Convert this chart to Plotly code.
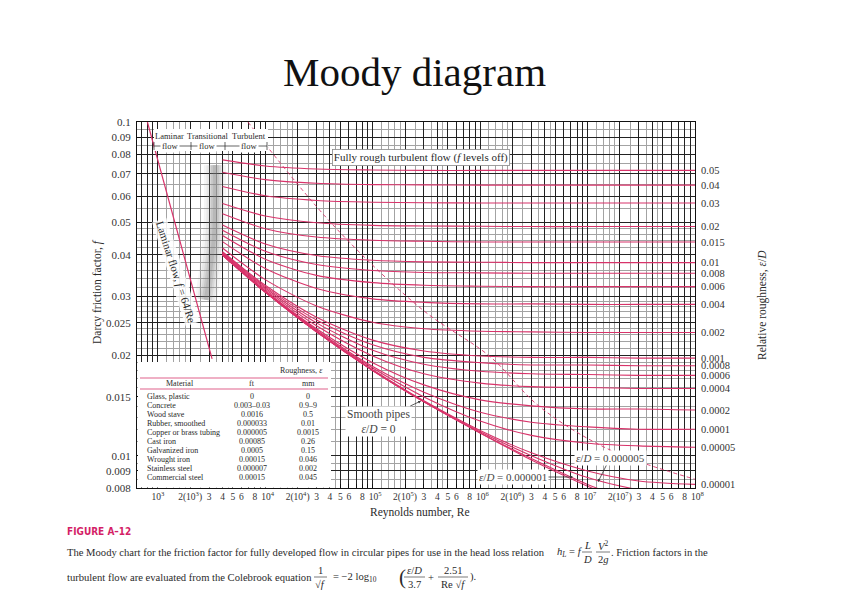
import numpy as np
import plotly.graph_objects as go

# ---------------- data ----------------
reynolds = [4e3, 1e4, 3e4, 1e5, 3e5, 1e6, 3e6, 1e7, 3e7, 1e8]

f_0p05 = [0.0770, 0.0738, 0.0723, 0.0718, 0.0716, 0.0716, 0.0716, 0.0716, 0.0716, 0.0716]
f_0p04 = [0.0707, 0.0672, 0.0655, 0.0649, 0.0648, 0.0647, 0.0647, 0.0647, 0.0647, 0.0647]
f_0p03 = [0.0641, 0.0601, 0.0582, 0.0575, 0.0573, 0.0572, 0.0572, 0.0572, 0.0572, 0.0572]
f_0p02 = [0.0570, 0.0523, 0.0499, 0.0490, 0.0488, 0.0487, 0.0486, 0.0486, 0.0486, 0.0486]
f_0p015 = [0.0531, 0.0479, 0.0452, 0.0442, 0.0439, 0.0437, 0.0437, 0.0437, 0.0437, 0.0437]
f_0p01 = [0.0491, 0.0431, 0.0398, 0.0385, 0.0381, 0.0380, 0.0379, 0.0379, 0.0379, 0.0379]
f_0p008 = [0.0474, 0.0410, 0.0374, 0.0359, 0.0354, 0.0353, 0.0352, 0.0352, 0.0352, 0.0352]
f_0p006 = [0.0457, 0.0388, 0.0347, 0.0330, 0.0324, 0.0322, 0.0321, 0.0321, 0.0321, 0.0321]
f_0p004 = [0.0438, 0.0364, 0.0317, 0.0295, 0.0288, 0.0285, 0.0285, 0.0284, 0.0284, 0.0284]
f_0p002 = [0.0419, 0.0337, 0.0281, 0.0251, 0.0240, 0.0236, 0.0235, 0.0234, 0.0234, 0.0234]
f_0p001 = [0.0409, 0.0324, 0.0260, 0.0222, 0.0206, 0.0199, 0.0197, 0.0197, 0.0196, 0.0196]
f_0p0008 = [0.0407, 0.0321, 0.0255, 0.0215, 0.0197, 0.0190, 0.0187, 0.0187, 0.0186, 0.0186]
f_0p0006 = [0.0405, 0.0318, 0.0250, 0.0207, 0.0188, 0.0179, 0.0176, 0.0175, 0.0174, 0.0174]
f_0p0004 = [0.0403, 0.0315, 0.0245, 0.0199, 0.0176, 0.0165, 0.0161, 0.0160, 0.0159, 0.0159]
f_0p0002 = [0.0401, 0.0312, 0.0240, 0.0190, 0.0163, 0.0147, 0.0141, 0.0138, 0.0138, 0.0137]
f_0p0001 = [0.0400, 0.0310, 0.0238, 0.0185, 0.0155, 0.0135, 0.0126, 0.0122, 0.0120, 0.0120]
f_0p00005 = [0.0400, 0.0310, 0.0236, 0.0183, 0.0150, 0.0127, 0.0115, 0.0109, 0.0107, 0.0106]
f_0p00001 = [0.0399, 0.0309, 0.0235, 0.0181, 0.0146, 0.0119, 0.0102, 0.0090, 0.0084, 0.0082]
f_0p000005 = [0.0399, 0.0309, 0.0235, 0.0180, 0.0145, 0.0118, 0.0100, 0.0086, 0.0079, 0.0075]
f_0p000001 = [0.0399, 0.0309, 0.0235, 0.0180, 0.0145, 0.0117, 0.0098, 0.0082, 0.0072, 0.0064]
f_smooth = [0.0399, 0.0309, 0.0235, 0.0180, 0.0145, 0.0117, 0.0097, 0.0081, 0.0070, 0.0059]

labelled_roughness = ["0.05", "0.04", "0.03", "0.02", "0.015", "0.01", "0.008", "0.006",
                      "0.004", "0.002", "0.001", "0.0008", "0.0006", "0.0004", "0.0002",
                      "0.0001", "0.00005", "0.00001"]

laminar_re = [800, 3200]
laminar_f = [0.1, 0.0195]

rough_limit_re = [6900, 4.28e4, 2.94e5, 1.24e6, 3.6e6, 1.62e7, 1e8]
rough_limit_f = [0.1, 0.0491, 0.0273, 0.0198, 0.0140, 0.0104, 0.0085]

transition_re = [3400, 3340, 2800]
transition_f = [0.0743, 0.0459, 0.0293]

f_ticks = [0.008, 0.009, 0.01, 0.015, 0.02, 0.025, 0.03, 0.04, 0.05, 0.06, 0.07, 0.08, 0.09, 0.1]
f_tick_text = ["0.008", "0.009", "0.01", "0.015", "0.02", "0.025", "0.03", "0.04", "0.05",
               "0.06", "0.07", "0.08", "0.09", "0.1"]
f_minor = [0.0085, 0.0095, 0.011, 0.012, 0.013, 0.014, 0.016, 0.017, 0.018, 0.019, 0.021,
           0.022, 0.023, 0.024, 0.026, 0.027, 0.028, 0.029, 0.032, 0.034, 0.036, 0.038,
           0.042, 0.044, 0.046, 0.048, 0.055, 0.065, 0.075, 0.085, 0.095]

materials = ["Glass, plastic", "Concrete", "Wood stave", "Rubber, smoothed",
             "Copper or brass tubing", "Cast iron", "Galvanized iron", "Wrought iron",
             "Stainless steel", "Commercial steel"]
rough_ft = ["0", "0.003–0.03", "0.0016", "0.000033", "0.000005", "0.00085", "0.0005",
            "0.00015", "0.000007", "0.00015"]
rough_mm = ["0", "0.9–9", "0.5", "0.01", "0.0015", "0.26", "0.15", "0.046", "0.002", "0.045"]

# ---------------- styling ----------------
PINK = "#d8336a"
SERIF = "Liberation Serif, Times New Roman, serif"
TXT = "#2a2a2a"
L, R, T, B = 137, 147, 122, 124
W, H = 842, 612
PW, PH = W - L - R, H - T - B
CAP = 10.6


def px(x):
    return (x - L) / PW


def py(y):
    return (H - B - y) / PH


curves = [f_0p05, f_0p04, f_0p03, f_0p02, f_0p015, f_0p01, f_0p008, f_0p006, f_0p004,
          f_0p002, f_0p001, f_0p0008, f_0p0006, f_0p0004, f_0p0002, f_0p0001, f_0p00005,
          f_0p00001, f_0p000005, f_0p000001, f_smooth]

fig = go.Figure()

# transition band (soft grey)
for w, op in [(22, 0.07), (17, 0.1), (12, 0.14), (8, 0.18), (4, 0.2)]:
    fig.add_trace(go.Scatter(x=transition_re, y=transition_f, mode="lines",
                             line=dict(color="#808080", width=w, shape="spline"),
                             opacity=op, hoverinfo="skip", showlegend=False))

for arr in curves:
    fig.add_trace(go.Scatter(x=reynolds, y=arr, mode="lines",
                             line=dict(color=PINK, width=1.1, shape="spline", smoothing=0.8),
                             hoverinfo="skip", showlegend=False))

fig.add_trace(go.Scatter(x=laminar_re, y=laminar_f, mode="lines",
                         line=dict(color=PINK, width=1.2), hoverinfo="skip", showlegend=False))

fig.add_trace(go.Scatter(x=rough_limit_re, y=rough_limit_f, mode="lines", yaxis="y2",
                         line=dict(color=PINK, width=0.9, dash="4px,3px", shape="spline"),
                         hoverinfo="skip", showlegend=False))

# x ticks
NB = "\u00a0"
x_major, x_text = [700, 800, 900], ["", "", ""]
for n in range(3, 8):
    for m in range(1, 10):
        x_major.append(m * 10 ** n)
        if m == 1:
            x_text.append((NB * 2 if n > 3 else "") + f"10<sup>{n}</sup>")
        elif m == 2:
            x_text.append(f"2(10<sup>{n}</sup>)")
        elif m in (7, 9):
            x_text.append("")
        else:
            x_text.append(str(m))
x_major.append(1e8)
x_text.append(NB * 2 + "10<sup>8</sup>")
x_minor = [m * 10 ** n for n in range(2, 8) for m in (1.2, 1.4, 1.6, 1.8, 2.5, 3.5, 4.5)
           if 640 < m * 10 ** n < 1e8]

yr = [np.log10(0.008), np.log10(0.1)]
right_vals = [c[-1] for c in curves[:len(labelled_roughness)]]

fig.update_layout(
    width=W, height=H, autosize=False,
    margin=dict(l=L, r=R, t=T, b=B, autoexpand=False),
    paper_bgcolor="white", plot_bgcolor="white",
    font=dict(family=SERIF, color=TXT, size=11),
    xaxis=dict(type="log", range=[np.log10(640), 8], tickmode="array", tickvals=x_major,
               ticktext=x_text, tickangle=0, showgrid=True, gridcolor="#222", gridwidth=0.9,
               showline=True, linecolor="#111", linewidth=1, mirror=True,
               ticks="inside", ticklen=4, tickcolor="#111", tickfont=dict(size=9.5, color="#333"),
               zeroline=False,
               minor=dict(tickmode="array", tickvals=x_minor, showgrid=True,
                          gridcolor="#a3a3a3", gridwidth=0.8, ticks="")),
    yaxis=dict(type="log", range=yr, tickmode="array", tickvals=f_ticks, ticktext=f_tick_text,
               showgrid=True, gridcolor="#222", gridwidth=0.9,
               showline=True, linecolor="#111", linewidth=1, mirror=True,
               ticks="inside", ticklen=4, tickcolor="#111", tickfont=dict(size=11, color="#333"),
               ticklabelstandoff=3, zeroline=False,
               minor=dict(tickmode="array", tickvals=f_minor, showgrid=True,
                          gridcolor="#a3a3a3", gridwidth=0.8, ticks="")),
    yaxis2=dict(type="log", range=yr, overlaying="y", side="right", tickmode="array",
                tickvals=right_vals, ticktext=labelled_roughness, showgrid=False,
                showline=False, ticks="", zeroline=False, ticklabelstandoff=5,
                tickfont=dict(size=10.5, color="#333")),
)

shapes = []
ann = []


def text(x, y, s, size=11, xanchor="center", color=TXT, **kw):
    d = dict(x=px(x), y=py(y), xref="paper", yref="paper", text=s, showarrow=False,
             xanchor=xanchor, yanchor="middle", font=dict(size=size, color=color,
                                                          family=kw.pop("family", SERIF)))
    d.update(kw)
    ann.append(d)


def hline(x0, x1, y, color="#222", width=0.7):
    shapes.append(dict(type="line", xref="paper", yref="paper", x0=px(x0), x1=px(x1),
                       y0=py(y), y1=py(y), line=dict(color=color, width=width), layer="above"))


def vline(x, y0, y1, color="#222", width=0.7):
    shapes.append(dict(type="line", xref="paper", yref="paper", x0=px(x), x1=px(x),
                       y0=py(y0), y1=py(y1), line=dict(color=color, width=width),
                       layer="above"))


def box(x0, x1, y0, y1):
    shapes.append(dict(type="rect", xref="paper", yref="paper", x0=px(x0), x1=px(x1),
                       y0=py(y1), y1=py(y0), fillcolor="white", line=dict(width=0),
                       layer="above"))


# title and axis titles
text(414, 72, "Moody diagram", size=41, color="#111")
text(420, 512, "Reynolds number, Re", size=11.5)
text(97, 292, "Darcy friction factor, <i>f</i>", size=11.5, textangle=-90)
text(762, 305, "Relative roughness, <i>ε</i>/<i>D</i>", size=11.5, textangle=-90)

# flow regime labels
box(154, 268, 129, 151)
text(169, 136, "Laminar", size=8.5)
text(207, 136, "Transitional", size=8.5)
text(249, 136, "Turbulent", size=8.5)
hline(154, 267, 146)
for xv in (154, 191, 225, 267):
    vline(xv, 142, 150)
for xv in (170, 207, 249):
    text(xv, 146, "flow", size=8.5, bgcolor="white")

text(421, 157, "Fully rough turbulent flow (<i>f</i> levels off)", size=11,
     bgcolor="white", bordercolor="#888", borderwidth=0.8, borderpad=1)

text(176, 272, "Laminar flow, <i>f</i> = 64/Re", size=11, textangle=72,
     bgcolor="rgba(255,255,255,0.8)")

# smooth pipes and small roughness labels
ann.append(dict(x=px(421), y=py(401), xref="paper", yref="paper",
                ax=-43, ay=20, text="Smooth pipes<br><i>ε</i>/<i>D</i> = 0", showarrow=True,
                arrowhead=2, arrowsize=0.7, arrowwidth=0.8, arrowcolor="#333",
                bgcolor="white", font=dict(size=11.5, color="#444", family=SERIF)))
ann.append(dict(x=px(598), y=py(482), xref="paper", yref="paper",
                ax=12, ay=-24, text="<i>ε</i>/<i>D</i> = 0.000005", showarrow=True,
                arrowhead=2, arrowsize=0.7, arrowwidth=0.8, arrowcolor="#333",
                bgcolor="white", font=dict(size=11, color="#444", family=SERIF)))
ann.append(dict(x=px(573), y=py(477), xref="paper", yref="paper",
                ax=-60, ay=0, text="<i>ε</i>/<i>D</i> = 0.000001", showarrow=True,
                arrowhead=2, arrowsize=0.7, arrowwidth=0.8, arrowcolor="#333",
                bgcolor="white", font=dict(size=11, color="#444", family=SERIF)))

# roughness table
box(138, 331, 362, 487.4)
text(325, 370, "Roughness, <i>ε</i>", size=8, xanchor="right")
hline(140, 328, 378, color="#e0628c", width=1.2)
hline(140, 328, 389, color="#e0628c", width=1.2)
text(180, 383.5, "Material", size=8)
text(252, 383.5, "ft", size=8)
text(308, 383.5, "mm", size=8)
for i, (m, a, b) in enumerate(zip(materials, rough_ft, rough_mm)):
    yy = 396 + i * 9.1
    text(145, yy, m, size=8, xanchor="left")
    text(252, yy, a, size=8)
    text(308, yy, b, size=8)

# caption
text(65, 531, "<b>FIGURE A–12</b>", size=10, xanchor="left", color="#d41f67",
     family="DejaVu Sans Condensed, DejaVu Sans, sans-serif")
text(65, 552, "The Moody chart for the friction factor for fully developed flow in circular "
     "pipes for use in the head loss relation", size=CAP, xanchor="left")
text(555, 552, "<i>h<sub>L</sub></i> = <i>f</i>", size=CAP, xanchor="left")
text(587, 545, "<i>L</i>", size=CAP)
text(587, 559, "<i>D</i>", size=CAP)
hline(582, 592, 552, width=0.6)
text(603, 545, "<i>V</i><sup>2</sup>", size=CAP)
text(603, 559, "2<i>g</i>", size=CAP)
hline(596, 610, 552, width=0.6)
text(609, 552, ". Friction factors in the", size=CAP, xanchor="left")

text(65, 577, "turbulent flow are evaluated from the Colebrook equation", size=CAP,
     xanchor="left")
text(320, 570, "1", size=CAP)
text(320, 584, "√<i>f</i>", size=CAP)
hline(314, 327, 577, width=0.6)
text(331, 577, "= −2 log<sub>10</sub>", size=CAP, xanchor="left")
text(397, 577, "(", size=21, xanchor="left")
text(414, 570, "<i>ε</i>/<i>D</i>", size=CAP)
text(414, 584, "3.7", size=CAP)
hline(404, 425, 577, width=0.6)
text(431, 577, "+", size=CAP)
text(453, 570, "2.51", size=CAP)
text(453, 584, "Re √<i>f</i>", size=CAP)
hline(438, 468, 577, width=0.6)
text(468, 577, ").", size=CAP, xanchor="left")

fig.update_layout(shapes=shapes, annotations=ann)
fig.write_html("out.html", config={"displayModeBar": False},
               post_script="document.body.style.margin='0';")
